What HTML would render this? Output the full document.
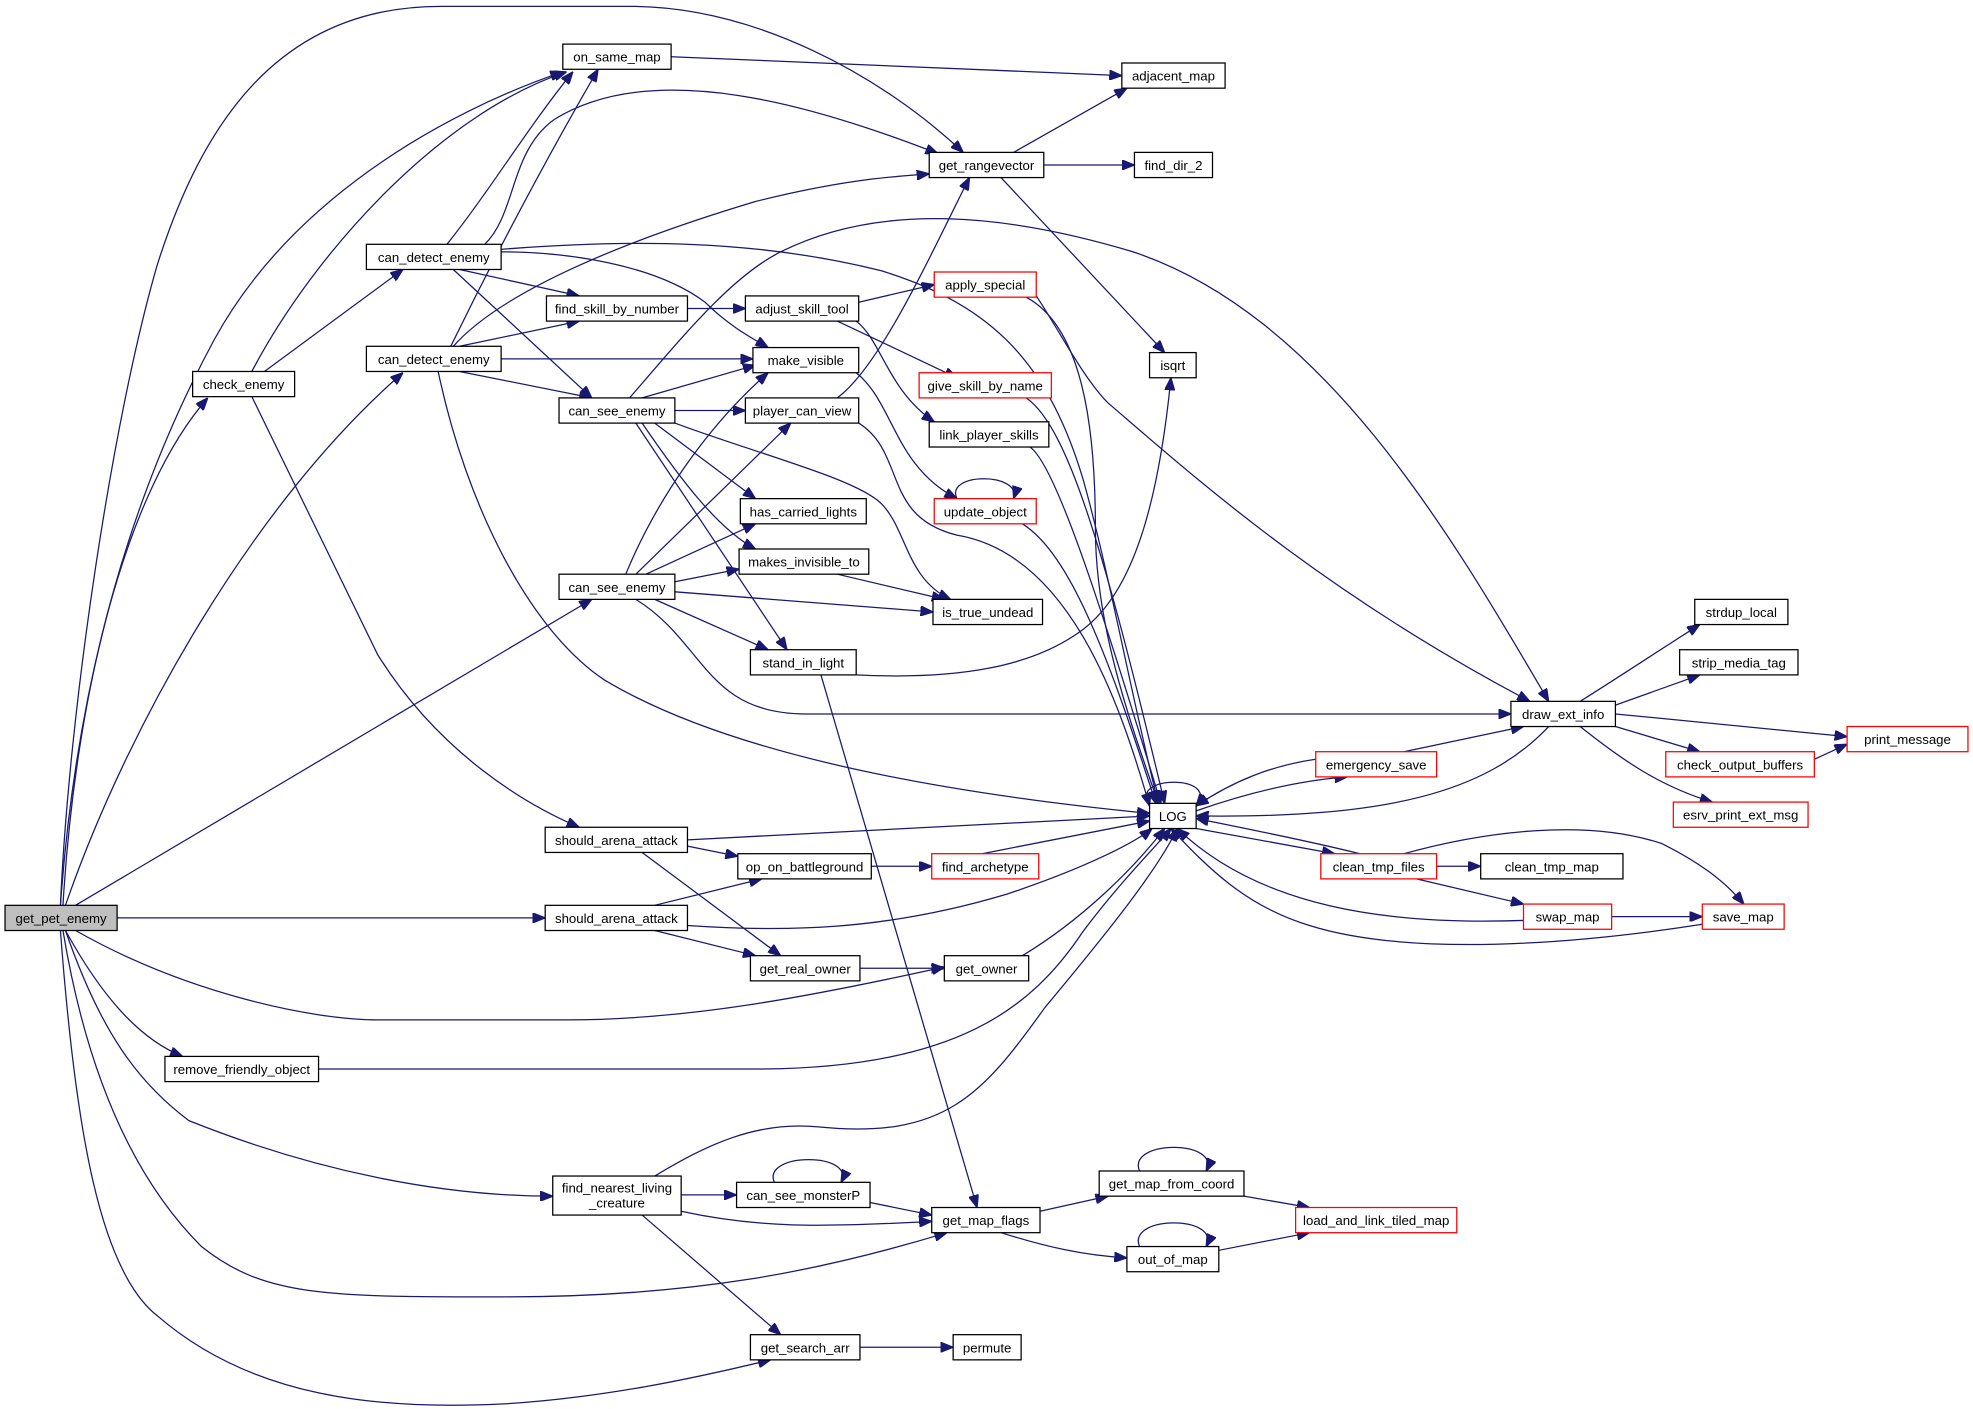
<!DOCTYPE html>
<html><head><meta charset="utf-8"><style>
html,body{margin:0;padding:0;background:#fff;}
svg{display:block;}
text{font-family:"Liberation Sans",sans-serif;font-size:10.5px;fill:#000;text-anchor:middle;}
.e{fill:none;stroke:#191970;stroke-width:1;}
.n{fill:#fff;stroke:#000;stroke-width:1;}
.r{fill:#fff;stroke:#ff0000;stroke-width:1;}
</style></head><body>
<svg width="1973" height="1409" viewBox="0 0 1567 1119" xmlns="http://www.w3.org/2000/svg">
<defs><marker id="a" markerWidth="10" markerHeight="8" refX="10" refY="4" orient="auto" markerUnits="userSpaceOnUse"><path d="M0,0 L10,4 L0,8 z" fill="#191970" stroke="#191970"/></marker></defs>
<g class="e" marker-end="url(#a)">
<path d="M48,719 C55,560 90,330 125,210 C160,100 220,5 350,5 L500,5 C600,5 700,60 765,121"/>
<path d="M48,719 C60,550 100,400 170,270 C230,160 350,90 447,57"/>
<path d="M50,719 C60,550 100,390 165,316"/>
<path d="M52,719 C100,580 200,400 320,296"/>
<path d="M60,719 L470,476"/>
<path d="M93,729 L433,729"/>
<path d="M60,739 C150,790 250,810 300,810 L450,810 C550,810 650,790 750,768"/>
<path d="M52,739 C80,790 110,825 145,839"/>
<path d="M52,739 C80,820 110,860 150,890 C250,930 350,950 439,950"/>
<path d="M50,739 C70,860 110,940 160,990 C210,1030 260,1030 400,1030 C550,1030 650,1010 752,979"/>
<path d="M48,739 C60,900 80,1010 125,1045 C200,1110 300,1120 400,1115 C480,1110 550,1095 612,1080"/>
<path d="M200,295 C250,200 350,90 450,57"/>
<path d="M210,295 L320,214"/>
<path d="M200,315 L300,520 C350,600 420,640 460,657"/>
<path d="M355,194 C390,150 420,100 455,57"/>
<path d="M385,194 C410,170 405,120 440,95 C520,45 650,85 745,122"/>
<path d="M365,214 L460,235"/>
<path d="M360,214 L470,316"/>
<path d="M398,200 C450,200 520,210 560,240 C580,260 600,270 610,276"/>
<path d="M398,198 C500,190 600,190 700,215 C780,240 830,280 860,380 C880,450 900,560 920,638"/>
<path d="M358,275 C380,230 420,150 475,55"/>
<path d="M360,275 C400,230 500,190 600,160 C680,140 720,140 738,138"/>
<path d="M365,275 L460,255"/>
<path d="M398,285 L598,285"/>
<path d="M365,295 L470,316"/>
<path d="M348,295 C370,400 420,500 480,540 C580,600 750,630 913,646"/>
<path d="M546,245 L592,245"/>
<path d="M682,240 L742,226"/>
<path d="M665,255 L760,300"/>
<path d="M680,255 C700,270 705,310 742,335"/>
<path d="M500,316 C540,270 580,220 620,200 C700,160 800,170 900,200 C1050,250 1150,420 1230,557"/>
<path d="M510,316 L600,290"/>
<path d="M536,326 L592,326"/>
<path d="M520,336 L600,396"/>
<path d="M510,336 C540,380 570,420 600,436"/>
<path d="M505,336 L625,516"/>
<path d="M536,336 C600,360 680,380 700,400 C720,420 720,460 755,476"/>
<path d="M497,456 C520,400 560,340 610,296"/>
<path d="M505,456 L628,336"/>
<path d="M513,456 L600,416"/>
<path d="M536,462 L587,452"/>
<path d="M536,470 L741,486"/>
<path d="M520,476 L610,516"/>
<path d="M505,476 C560,510 560,567 640,567 L1200,567"/>
<path d="M680,296 C710,320 710,370 760,396"/>
<path d="M665,316 C700,290 740,200 770,141"/>
<path d="M682,336 C720,360 700,410 760,425 C850,440 890,560 913,640"/>
<path d="M665,456 L750,476"/>
<path d="M680,536 C760,540 820,530 860,500 C900,470 920,400 930,300"/>
<path d="M652,536 L776,959"/>
<path d="M805,121 L895,70"/>
<path d="M829,131 L901,131"/>
<path d="M795,141 L925,280"/>
<path d="M533,45 L891,60"/>
<path d="M815,236 C860,260 870,340 870,420 C870,500 900,580 920,638"/>
<path d="M823,235 C840,260 860,300 880,320 C950,380 1050,470 1215,557"/>
<path d="M815,316 C850,340 880,450 925,638"/>
<path d="M818,355 C840,370 880,500 922,638"/>
<path d="M812,416 C850,440 880,520 918,638"/>
<path d="M760,396 C750,375 812,375 805,396"/>
<path d="M913,640 C895,615 970,615 950,640"/>
<path d="M546,667 L913,648"/>
<path d="M546,672 L586,680"/>
<path d="M510,677 L620,759"/>
<path d="M520,719 L605,698"/>
<path d="M520,739 L600,759"/>
<path d="M546,735 C620,740 700,740 800,710 C860,690 900,670 915,658"/>
<path d="M692,688 L740,688"/>
<path d="M780,678 L913,652"/>
<path d="M683,769 L750,769"/>
<path d="M812,759 C860,730 900,690 925,658"/>
<path d="M253,849 L600,849 C760,849 820,800 860,740 C890,700 920,670 930,658"/>
<path d="M520,934 C560,910 600,890 650,895 C750,905 780,870 830,800 C880,740 920,690 935,658"/>
<path d="M541,949 L585,949"/>
<path d="M541,962 C600,975 650,975 740,970"/>
<path d="M510,965 L620,1060"/>
<path d="M691,955 L740,965"/>
<path d="M615,939 C605,915 680,915 668,939"/>
<path d="M826,962 L880,950"/>
<path d="M795,979 C830,990 860,997 895,999"/>
<path d="M988,950 L1040,959"/>
<path d="M905,930 C895,905 970,905 958,930"/>
<path d="M968,993 L1040,979"/>
<path d="M905,990 C895,965 970,965 958,990"/>
<path d="M683,1070 L757,1070"/>
<path d="M950,644 C990,630 1030,620 1070,617"/>
<path d="M1045,603 C1010,608 980,620 950,640"/>
<path d="M1115,597 L1210,577"/>
<path d="M1230,577 C1180,630 1100,650 950,648"/>
<path d="M950,658 L1060,678"/>
<path d="M1080,678 C1040,668 990,658 950,650"/>
<path d="M1141,688 L1176,688"/>
<path d="M1125,698 L1210,718"/>
<path d="M1115,678 C1180,660 1260,650 1320,670 C1350,685 1370,700 1385,718"/>
<path d="M1210,731 C1100,735 1000,720 935,658"/>
<path d="M1280,728 L1352,728"/>
<path d="M1352,734 C1250,750 1120,760 1040,735 C990,720 960,690 930,658"/>
<path d="M1255,557 C1290,535 1320,515 1350,496"/>
<path d="M1283,560 L1350,536"/>
<path d="M1283,567 L1467,585"/>
<path d="M1283,577 L1350,597"/>
<path d="M1255,577 C1290,605 1320,625 1360,637"/>
<path d="M1441,603 L1467,591"/>
</g>
<rect x="4" y="719" width="89" height="20" fill="#bfbfbf" stroke="#000"/><text x="48.5" y="733">get_pet_enemy</text>
<rect class="n" x="447" y="35" width="86" height="20"/><text x="490" y="49">on_same_map</text>
<rect class="n" x="891" y="50" width="82" height="20"/><text x="932" y="64">adjacent_map</text>
<rect class="n" x="738" y="121" width="91" height="20"/><text x="783.5" y="135">get_rangevector</text>
<rect class="n" x="901" y="121" width="62" height="20"/><text x="932" y="135">find_dir_2</text>
<rect class="n" x="291" y="194" width="107" height="20"/><text x="344.5" y="208">can_detect_enemy</text>
<rect class="n" x="291" y="275" width="107" height="20"/><text x="344.5" y="289">can_detect_enemy</text>
<rect class="n" x="153" y="295" width="81" height="20"/><text x="193.5" y="309">check_enemy</text>
<rect class="n" x="434" y="235" width="112" height="20"/><text x="490" y="249">find_skill_by_number</text>
<rect class="n" x="592" y="235" width="90" height="20"/><text x="637" y="249">adjust_skill_tool</text>
<rect class="r" x="742" y="216" width="81" height="20"/><text x="782.5" y="230">apply_special</text>
<rect class="n" x="598" y="276" width="84" height="20"/><text x="640" y="290">make_visible</text>
<rect class="n" x="913" y="280" width="37" height="20"/><text x="931.5" y="294">isqrt</text>
<rect class="n" x="444" y="316" width="92" height="20"/><text x="490" y="330">can_see_enemy</text>
<rect class="n" x="592" y="316" width="90" height="20"/><text x="637" y="330">player_can_view</text>
<rect class="r" x="730" y="296" width="105" height="20"/><text x="782.5" y="310">give_skill_by_name</text>
<rect class="n" x="738" y="335" width="95" height="20"/><text x="785.5" y="349">link_player_skills</text>
<rect class="r" x="742" y="396" width="81" height="20"/><text x="782.5" y="410">update_object</text>
<rect class="n" x="588" y="396" width="100" height="20"/><text x="638" y="410">has_carried_lights</text>
<rect class="n" x="587" y="436" width="103" height="20"/><text x="638.5" y="450">makes_invisible_to</text>
<rect class="n" x="444" y="456" width="92" height="20"/><text x="490" y="470">can_see_enemy</text>
<rect class="n" x="741" y="476" width="87" height="20"/><text x="784.5" y="490">is_true_undead</text>
<rect class="n" x="596" y="516" width="84" height="20"/><text x="638" y="530">stand_in_light</text>
<rect class="n" x="1346" y="476" width="74" height="20"/><text x="1383" y="490">strdup_local</text>
<rect class="n" x="1334" y="516" width="94" height="20"/><text x="1381" y="530">strip_media_tag</text>
<rect class="n" x="1200" y="557" width="83" height="20"/><text x="1241.5" y="571">draw_ext_info</text>
<rect class="r" x="1467" y="577" width="96" height="20"/><text x="1515" y="591">print_message</text>
<rect class="r" x="1323" y="597" width="118" height="20"/><text x="1382" y="611">check_output_buffers</text>
<rect class="r" x="1045" y="597" width="96" height="20"/><text x="1093" y="611">emergency_save</text>
<rect class="n" x="913" y="638" width="37" height="20"/><text x="931.5" y="652">LOG</text>
<rect class="r" x="1329" y="637" width="107" height="20"/><text x="1382.5" y="651">esrv_print_ext_msg</text>
<rect class="n" x="433" y="657" width="113" height="20"/><text x="489.5" y="671">should_arena_attack</text>
<rect class="n" x="586" y="678" width="106" height="20"/><text x="639" y="692">op_on_battleground</text>
<rect class="r" x="740" y="678" width="85" height="20"/><text x="782.5" y="692">find_archetype</text>
<rect class="r" x="1049" y="678" width="92" height="20"/><text x="1095" y="692">clean_tmp_files</text>
<rect class="n" x="1176" y="678" width="113" height="20"/><text x="1232.5" y="692">clean_tmp_map</text>
<rect class="n" x="433" y="719" width="113" height="20"/><text x="489.5" y="733">should_arena_attack</text>
<rect class="r" x="1210" y="718" width="70" height="20"/><text x="1245" y="732">swap_map</text>
<rect class="r" x="1352" y="718" width="65" height="20"/><text x="1384.5" y="732">save_map</text>
<rect class="n" x="596" y="759" width="87" height="20"/><text x="639.5" y="773">get_real_owner</text>
<rect class="n" x="750" y="759" width="67" height="20"/><text x="783.5" y="773">get_owner</text>
<rect class="n" x="131" y="839" width="122" height="20"/><text x="192" y="853">remove_friendly_object</text>
<rect class="n" x="439" y="934" width="102" height="31"/><text x="490" y="947">find_nearest_living</text><text x="490" y="959">_creature</text>
<rect class="n" x="585" y="939" width="106" height="20"/><text x="638" y="953">can_see_monsterP</text>
<rect class="n" x="873" y="930" width="115" height="20"/><text x="930.5" y="944">get_map_from_coord</text>
<rect class="n" x="740" y="959" width="86" height="20"/><text x="783" y="973">get_map_flags</text>
<rect class="r" x="1029" y="959" width="128" height="20"/><text x="1093" y="973">load_and_link_tiled_map</text>
<rect class="n" x="895" y="990" width="73" height="20"/><text x="931.5" y="1004">out_of_map</text>
<rect class="n" x="596" y="1060" width="87" height="20"/><text x="639.5" y="1074">get_search_arr</text>
<rect class="n" x="757" y="1060" width="54" height="20"/><text x="784" y="1074">permute</text>
</svg>
</body></html>
